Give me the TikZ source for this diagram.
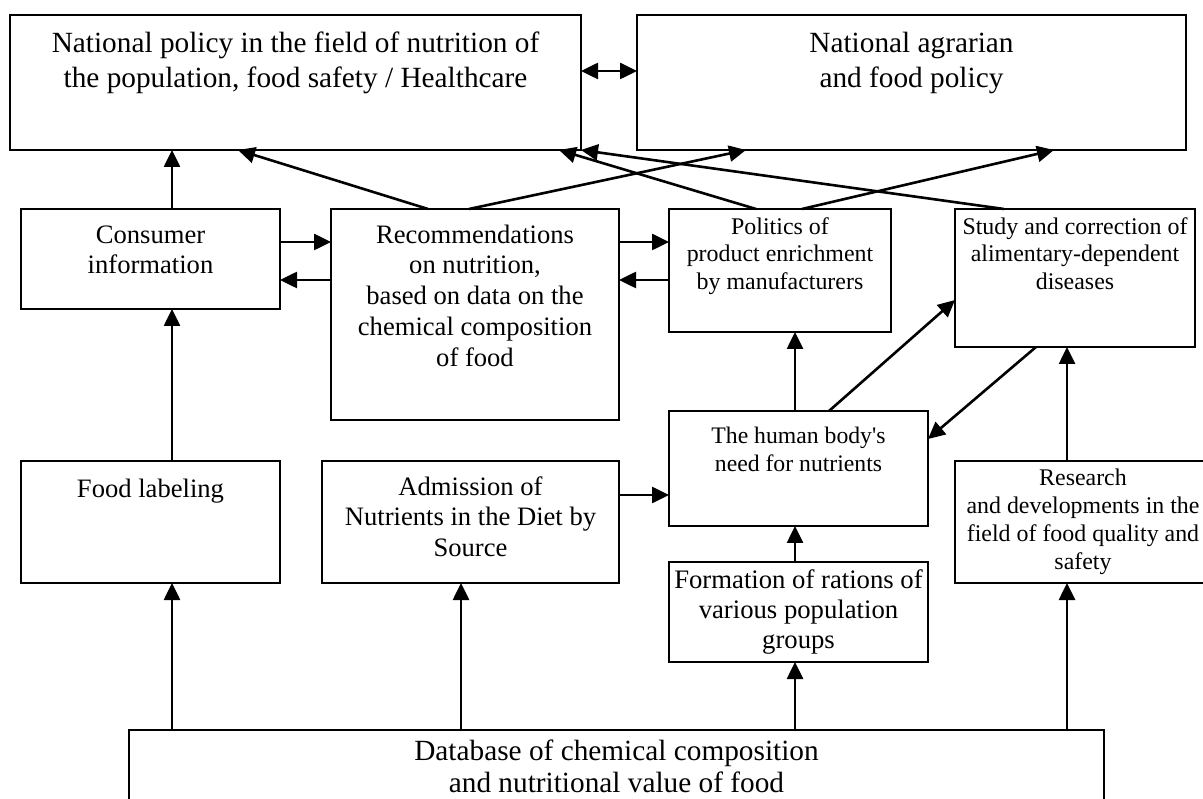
\documentclass[tikz,border=0pt]{standalone}
\usepackage{fontspec}
\setmainfont{Liberation Serif}
\usetikzlibrary{arrows.meta,calc}
\begin{document}
\begin{tikzpicture}[x=1pt,y=-1pt,
  box/.style={draw,line width=1.8pt,inner sep=0pt,outer sep=0pt},
  txt/.style={anchor=north,inner sep=0pt,align=center},
  txtL/.style={txt,font=\fontsize{29.3}{35}\selectfont},
  txtM/.style={txt,font=\fontsize{26.6}{30.75}\selectfont},
  txtS/.style={txt,font=\fontsize{23.9}{27.7}\selectfont},
  tip/.tip={Triangle[length=17pt,width=16pt]},
  arr/.style={-tip,line width=2.6pt},
  dbl/.style={tip-tip,line width=2.6pt}]
\clip (0,0) rectangle (1203,799);
\fill[white] (0,0) rectangle (1203,799);
% boxes
\node[box,minimum width=571pt,minimum height=135pt] (pol) at (295.5,82.5) {};
\node[box,minimum width=549pt,minimum height=135pt] (agr) at (911.5,82.5) {};
\node[box,minimum width=259pt,minimum height=100pt] (con) at (150.5,259) {};
\node[box,minimum width=288pt,minimum height=211pt] (rec) at (475,314.5) {};
\node[box,minimum width=222pt,minimum height=123pt] (polit) at (780,270.5) {};
\node[box,minimum width=240pt,minimum height=138pt] (study) at (1075,278) {};
\node[box,minimum width=259pt,minimum height=115pt] (human) at (798.5,468.5) {};
\node[box,minimum width=259pt,minimum height=122pt] (food) at (150.5,522) {};
\node[box,minimum width=297pt,minimum height=122pt] (adm) at (470.5,522) {};
\node[box,minimum width=259pt,minimum height=100pt] (form) at (798.5,612) {};
\node[box,minimum width=256pt,minimum height=122pt] (res) at (1083,522) {};
\node[box,minimum width=975pt,minimum height=100pt] (db) at (616.5,780) {};
% texts
\node[txtL] (polt) at ($(pol.north)+(0,13)$) {\strut National policy in the field of nutrition of\\the population, food safety / Healthcare};
\node[txtL] (agrt) at ($(agr.north)+(0,13)$) {\strut National agrarian\\and food policy};
\node[txtM] (cont) at ($(con.north)+(0,12.5)$) {\strut Consumer\\information};
\node[txtM] (rect) at ($(rec.north)+(0,12.5)$) {\strut Recommendations\\on nutrition,\\based on data on the\\chemical composition\\of food};
\node[txtS] (politt) at ($(polit.north)+(0,5.6)$) {\strut Politics of\\product enrichment\\by manufacturers};
\node[txtS] (studyt) at ($(study.north)+(0,5.6)$) {\strut Study and correction of\\alimentary-dependent\\diseases};
\node[txt,font=\fontsize{23.7}{27.4}\selectfont] (humant) at ($(human.north)+(0,13.5)$) {\strut The human body{\textquotesingle}s\\need for nutrients};
\node[txtM] (foodt) at ($(food.north)+(0,15)$) {\strut Food labeling};
\node[txtM] (admt) at ($(adm.north)+(0,12.5)$) {\strut Admission of\\Nutrients in the Diet by\\Source};
\node[txt,font=\fontsize{26.7}{30}\selectfont] (formt) at ($(form.north)+(0,5.3)$) {\strut Formation of rations of\\various population\\groups};
\node[txt,font=\fontsize{23.9}{28}\selectfont] (rest) at ($(res.north)+(0,5)$) {\strut Research\\and developments in the\\field of food quality and\\safety};
\node[txt,font=\fontsize{29.3}{32.7}\selectfont] (dbt) at ($(db.north)+(0,7)$) {\strut Database of chemical composition\\and nutritional value of food};
% vertical lines positions
\coordinate (xL) at (172,0);
\coordinate (xA) at (461,0);
\coordinate (xH) at (795,0);
\coordinate (xR) at (1067,0);
% connectors
\draw[dbl] ($(pol.east)+(0,-11.5)$) -- ($(agr.west)+(0,-11.5)$);
\draw[arr] (con.north -| xL) -- (pol.south -| xL);
\draw[arr] ($(rec.north west)+(97,0)$) -- ($(pol.south west)+(228,0)$);
\draw[arr] ($(rec.north west)+(138,0)$) -- ($(agr.south west)+(109,0)$);
\draw[arr] ($(polit.north west)+(87,0)$) -- ($(pol.south west)+(549,0)$);
\draw[arr] ($(polit.north west)+(133,0)$) -- ($(agr.south west)+(417,0)$);
\draw[arr] ($(study.north west)+(49,0)$) -- (pol.south east);
\draw[arr] ($(con.north east)+(0,33)$) -- ($(rec.north west)+(0,33)$);
\draw[arr] ($(rec.north west)+(0,71)$) -- ($(con.north east)+(0,71)$);
\draw[arr] ($(rec.north east)+(0,33)$) -- ($(polit.north west)+(0,33)$);
\draw[arr] ($(polit.north west)+(0,71)$) -- ($(rec.north east)+(0,71)$);
\draw[arr] (human.north -| xH) -- (polit.south -| xH);
\draw[arr] ($(human.north west)+(160,0)$) -- ($(study.north west)+(0,91)$);
\draw[arr] ($(study.south west)+(81,0)$) -- ($(human.north east)+(0,28)$);
\draw[arr] (res.north -| xR) -- (study.south -| xR);
\draw[arr] (food.north -| xL) -- (con.south -| xL);
\draw[arr] ($(adm.north east)+(0,34)$) -- ($(human.north west)+(0,84)$);
\draw[arr] (db.north -| xL) -- (food.south -| xL);
\draw[arr] (db.north -| xA) -- (adm.south -| xA);
\draw[arr] (db.north -| xH) -- (form.south -| xH);
\draw[arr] (form.north -| xH) -- (human.south -| xH);
\draw[arr] (db.north -| xR) -- (res.south -| xR);
\end{tikzpicture}
\end{document}
